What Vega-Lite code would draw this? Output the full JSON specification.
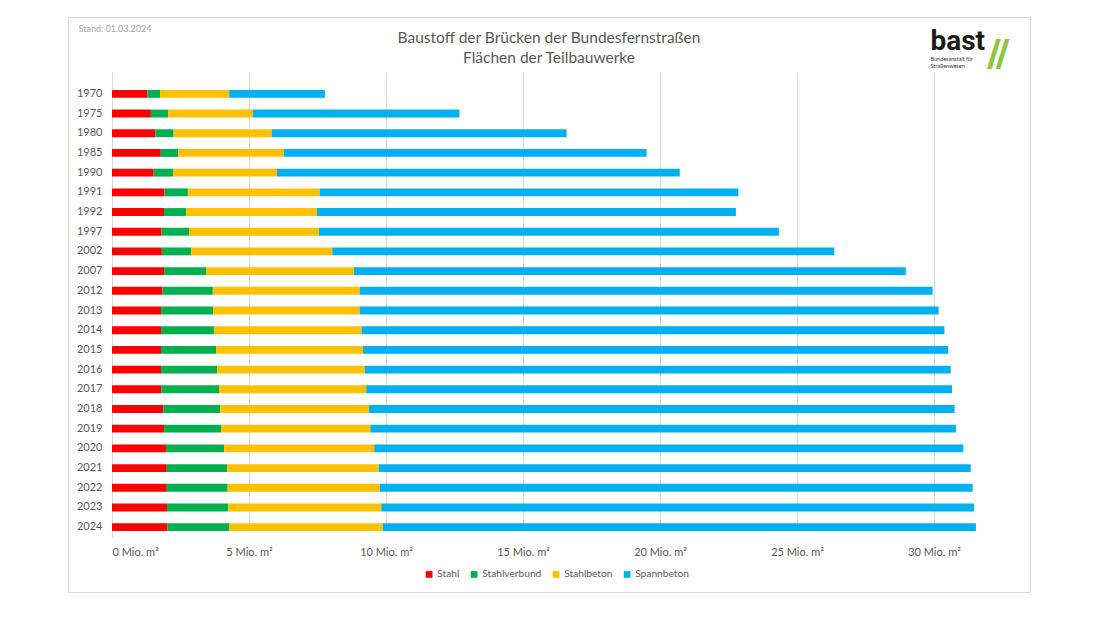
{
  "$schema": "https://vega.github.io/schema/vega-lite/v6.json",
  "width": 962,
  "height": 575,
  "autosize": {"type": "none"},
  "padding": {"left": 68, "top": 17, "right": 70, "bottom": 27},
  "background": "white",
  "title": {
    "text": ["Baustoff der Brücken der Bundesfernstraßen", "Flächen der Teilbauwerke"],
    "anchor": "middle",
    "frame": "group",
    "orient": "top",
    "offset": -49,
    "font": "Lato",
    "fontSize": 15.5,
    "fontWeight": "normal",
    "color": "#595959",
    "lineHeight": 20
  },
  "data": {
    "values": [
      {"Jahr": 1970, "Stahl": 1.29, "Stahlverbund": 0.47, "Stahlbeton": 2.52, "Spannbeton": 3.49},
      {"Jahr": 1975, "Stahl": 1.42, "Stahlverbund": 0.63, "Stahlbeton": 3.09, "Spannbeton": 7.54},
      {"Jahr": 1980, "Stahl": 1.58, "Stahlverbund": 0.67, "Stahlbeton": 3.58, "Spannbeton": 10.76},
      {"Jahr": 1985, "Stahl": 1.78, "Stahlverbund": 0.64, "Stahlbeton": 3.85, "Spannbeton": 13.24},
      {"Jahr": 1990, "Stahl": 1.52, "Stahlverbund": 0.71, "Stahlbeton": 3.79, "Spannbeton": 14.70},
      {"Jahr": 1991, "Stahl": 1.91, "Stahlverbund": 0.86, "Stahlbeton": 4.81, "Spannbeton": 15.28},
      {"Jahr": 1992, "Stahl": 1.90, "Stahlverbund": 0.81, "Stahlbeton": 4.77, "Spannbeton": 15.29},
      {"Jahr": 1997, "Stahl": 1.81, "Stahlverbund": 1.00, "Stahlbeton": 4.74, "Spannbeton": 16.79},
      {"Jahr": 2002, "Stahl": 1.82, "Stahlverbund": 1.07, "Stahlbeton": 5.15, "Spannbeton": 18.32},
      {"Jahr": 2007, "Stahl": 1.90, "Stahlverbund": 1.53, "Stahlbeton": 5.40, "Spannbeton": 20.14},
      {"Jahr": 2012, "Stahl": 1.84, "Stahlverbund": 1.84, "Stahlbeton": 5.36, "Spannbeton": 20.91},
      {"Jahr": 2013, "Stahl": 1.79, "Stahlverbund": 1.90, "Stahlbeton": 5.35, "Spannbeton": 21.13},
      {"Jahr": 2014, "Stahl": 1.79, "Stahlverbund": 1.93, "Stahlbeton": 5.39, "Spannbeton": 21.27},
      {"Jahr": 2015, "Stahl": 1.79, "Stahlverbund": 2.01, "Stahlbeton": 5.36, "Spannbeton": 21.36},
      {"Jahr": 2016, "Stahl": 1.79, "Stahlverbund": 2.05, "Stahlbeton": 5.39, "Spannbeton": 21.38},
      {"Jahr": 2017, "Stahl": 1.80, "Stahlverbund": 2.11, "Stahlbeton": 5.37, "Spannbeton": 21.38},
      {"Jahr": 2018, "Stahl": 1.87, "Stahlverbund": 2.08, "Stahlbeton": 5.43, "Spannbeton": 21.37},
      {"Jahr": 2019, "Stahl": 1.90, "Stahlverbund": 2.08, "Stahlbeton": 5.45, "Spannbeton": 21.37},
      {"Jahr": 2020, "Stahl": 1.97, "Stahlverbund": 2.13, "Stahlbeton": 5.47, "Spannbeton": 21.50},
      {"Jahr": 2021, "Stahl": 2.00, "Stahlverbund": 2.20, "Stahlbeton": 5.54, "Spannbeton": 21.60},
      {"Jahr": 2022, "Stahl": 2.00, "Stahlverbund": 2.22, "Stahlbeton": 5.55, "Spannbeton": 21.64},
      {"Jahr": 2023, "Stahl": 2.01, "Stahlverbund": 2.23, "Stahlbeton": 5.59, "Spannbeton": 21.63},
      {"Jahr": 2024, "Stahl": 2.02, "Stahlverbund": 2.25, "Stahlbeton": 5.61, "Spannbeton": 21.65}
    ]
  },
  "transform": [
    {"fold": ["Stahl", "Stahlverbund", "Stahlbeton", "Spannbeton"], "as": ["Baustoff", "Flaeche"]},
    {"window": [{"op": "row_number", "as": "Reihenfolge"}], "groupby": ["Jahr"]}
  ],
  "layer": [
    {
      "mark": {"type": "bar"},
      "encoding": {
        "y": {
          "field": "Jahr",
          "type": "nominal",
          "sort": "ascending",
          "scale": {"range": [67, 520], "paddingInner": 0.6, "paddingOuter": 0.3},
          "axis": {
            "orient": "left",
            "offset": -44,
            "title": "Stand: 01.03.2024",
            "titleAngle": 0,
            "titleAlign": "left",
            "titleBaseline": "middle",
            "titleX": -34,
            "titleY": 11,
            "titleFont": "Lato",
            "titleFontSize": 9,
            "titleFontWeight": "normal",
            "titleColor": "#a6a6a6",
            "labelFont": "Lato",
            "labelFontSize": 11,
            "labelColor": "#595959",
            "labelPadding": 10,
            "ticks": false,
            "domain": true,
            "domainColor": "#d9d9d9",
            "grid": false
          }
        },
        "x": {
          "field": "Flaeche",
          "type": "quantitative",
          "stack": "zero",
          "scale": {"domain": [0, 32], "range": [44, 920.8], "nice": false, "zero": true},
          "axis": {
            "orient": "bottom",
            "offset": -55,
            "values": [0, 5, 10, 15, 20, 25, 30],
            "labelExpr": "datum.value + ' Mio. m²'",
            "grid": true,
            "gridColor": "#d9d9d9",
            "gridWidth": 1,
            "domain": false,
            "ticks": false,
            "labelPadding": 9,
            "labelFont": "Lato",
            "labelFontSize": 11,
            "labelColor": "#595959",
            "title": "//",
            "titleX": 930,
            "titleY": -482,
            "titleAlign": "center",
            "titleBaseline": "middle",
            "titleFont": "Roboto",
            "titleFontSize": 38,
            "titleFontWeight": 900,
            "titleColor": "#8cc63e"
          }
        },
        "order": {"field": "Reihenfolge", "type": "quantitative", "sort": "ascending"},
        "color": {
          "field": "Baustoff",
          "type": "nominal",
          "sort": ["Stahl", "Stahlverbund", "Stahlbeton", "Spannbeton"],
          "scale": {
            "domain": ["Stahl", "Stahlverbund", "Stahlbeton", "Spannbeton"],
            "range": ["#ff0000", "#00b050", "#ffc000", "#00b0f0"]
          },
          "legend": {
            "orient": "none",
            "legendX": 356,
            "legendY": 552,
            "direction": "horizontal",
            "title": null,
            "symbolType": "square",
            "symbolSize": 45,
            "symbolStrokeWidth": 0,
            "labelFont": "Lato",
            "labelFontSize": 10.2,
            "labelColor": "#595959",
            "columnPadding": 9,
            "labelOffset": 3
          }
        }
      }
    },
    {
      "mark": {"type": "bar", "opacity": 0},
      "encoding": {
        "y": {
          "field": "Jahr",
          "type": "nominal",
          "sort": "ascending",
          "axis": {
            "orient": "right",
            "labels": false,
            "ticks": false,
            "domain": false,
            "grid": false,
            "title": "bast",
            "titleAngle": 0,
            "titleAlign": "left",
            "titleBaseline": "middle",
            "titleX": -100,
            "titleY": 24,
            "titleFont": "Roboto",
            "titleFontSize": 28,
            "titleFontWeight": "bold",
            "titleColor": "#1a1a1a"
          }
        },
        "x": {
          "field": "Flaeche",
          "type": "quantitative",
          "stack": null,
          "axis": {
            "orient": "top",
            "labels": false,
            "ticks": false,
            "domain": false,
            "grid": false,
            "title": ["Bundesanstalt für", "Straßenwesen"],
            "titleX": 862,
            "titleY": 39,
            "titleAlign": "left",
            "titleBaseline": "top",
            "titleFont": "Lato",
            "titleFontSize": 5.5,
            "titleFontWeight": "normal",
            "titleColor": "#333333",
            "titleLineHeight": 7
          }
        }
      }
    }
  ],
  "resolve": {"axis": {"x": "independent", "y": "independent"}},
  "config": {
    "font": "Lato",
    "view": {"stroke": "#d9d9d9", "strokeWidth": 1}
  }
}
